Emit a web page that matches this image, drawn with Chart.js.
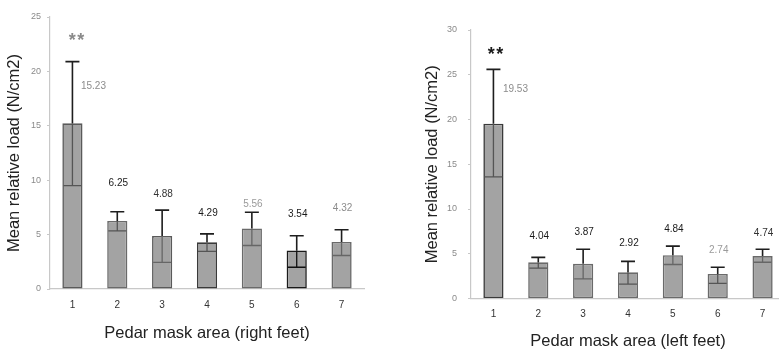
<!DOCTYPE html>
<html><head><meta charset="utf-8">
<script src="https://cdn.jsdelivr.net/npm/chart.js@4"></script>
<style>
html,body{margin:0;padding:0;background:#fff;overflow:hidden;width:779px;height:352px;}
#w1{position:absolute;left:0;top:0;width:385px;height:352px;}
#w2{position:absolute;left:390px;top:0;width:420px;height:352px;}
</style></head><body>
<div id="w1"><canvas id="c1"></canvas></div>
<div id="w2"><canvas id="c2"></canvas></div>
<script>
// ---- data ----
const categories = ['1','2','3','4','5','6','7'];
const yTicksRight = [0,5,10,15,20,25];
const yTicksLeft = [0,5,10,15,20,25,30];

const rightFeetMeans = [15.23, 6.25, 4.88, 4.29, 5.56, 3.54, 4.32];
const rightFeetErrHigh = [20.9, 7.1, 7.25, 5.07, 7.05, 4.9, 5.45];
const rightFeetErrLow = [9.5, 5.35, 2.45, 3.45, 4.0, 2.0, 3.08];
const rightFeetLabelAt = [18.6, 9.7, 8.75, 7.0, 7.8, 6.9, 7.4];
const rightFeetStars = ['**','','','','','',''];
const rightFeetStarAt = 23.2;

const leftFeetMeans = [19.53, 4.04, 3.87, 2.92, 4.84, 2.74, 4.74];
const leftFeetErrHigh = [25.6, 4.6, 5.5, 4.15, 5.85, 3.5, 5.5];
const leftFeetErrLow = [13.6, 3.4, 2.2, 1.6, 3.8, 1.7, 4.05];
const leftFeetLabelAt = [23.4, 7.0, 7.4, 6.2, 7.7, 5.4, 7.3];
const leftFeetStars = ['**','','','','','',''];
const leftFeetStarAt = 27.7;

// ---- styles ----
const FONT = '"Liberation Sans", Arial, sans-serif';

const overlay = {
  id: 'overlay',
  afterDatasetsDraw(chart, args, o) {
    const ctx = chart.ctx, ys = chart.scales.y;
    const meta = chart.getDatasetMeta(0);
    ctx.save();
    o.hi.forEach((hi, i) => {
      const x = meta.data[i].x;
      const yH = ys.getPixelForValue(hi), yL = ys.getPixelForValue(o.lo[i]);
      const yT = meta.data[i].y;
      ctx.lineCap = 'butt';
      ctx.strokeStyle = '#1e1e1e'; ctx.lineWidth = 1.6;
      ctx.beginPath();
      ctx.moveTo(x, yH); ctx.lineTo(x, Math.min(yT, yL));
      ctx.moveTo(x - 7, yH); ctx.lineTo(x + 7, yH);
      ctx.stroke();
      ctx.strokeStyle = o.lowColor[i]; ctx.lineWidth = 1.3;
      ctx.beginPath();
      ctx.moveTo(x, Math.min(yT, yL)); ctx.lineTo(x, yL);
      ctx.moveTo(x - 9, yL); ctx.lineTo(x + 9, yL);
      ctx.stroke();
      ctx.font = '10px ' + FONT;
      ctx.fillStyle = o.labelColor[i];
      ctx.textAlign = 'center'; ctx.textBaseline = 'middle';
      const dx = i === 0 ? o.firstShift : 1;
      ctx.fillText(o.values[i].toFixed(2), x + dx, ys.getPixelForValue(o.labelAt[i]));
      if (o.stars[i]) {
        ctx.font = 'bold 18px ' + FONT;
        ctx.fillStyle = o.starColor;
        ctx.fillText(o.stars[i].split('').join('\u200A'), x + o.starShift, ys.getPixelForValue(o.starAt) + 4);
      }
    });
    ctx.restore();
  }
};

function makeChart(id, cfg) {
  return new Chart(document.getElementById(id), {
    type: 'bar',
    data: {
      labels: categories,
      datasets: [{
        data: cfg.values,
        backgroundColor: '#a3a3a3',
        borderColor: cfg.borderColors,
        borderWidth: 1.6,
        borderSkipped: false,
        barPercentage: 0.9,
        categoryPercentage: 0.5
      }]
    },
    options: {
      responsive: true,
      maintainAspectRatio: false,
      animation: false,
      layout: { padding: { top: cfg.top, right: cfg.right, left: 0, bottom: 0 } },
      plugins: {
        legend: { display: false },
        tooltip: { enabled: false },
        overlay: {
          hi: cfg.hi, lo: cfg.lo, values: cfg.values, labelAt: cfg.labelAt,
          labelColor: cfg.labelColor, lowColor: cfg.lowColor, stars: cfg.stars,
          starAt: cfg.starAt, starColor: cfg.starColor, starShift: cfg.starShift,
          firstShift: cfg.firstShift
        }
      },
      scales: {
        x: {
          offset: true,
          grid: { display: false, drawTicks: false },
          border: { display: true, color: '#c8c8c8', width: 1.2 },
          ticks: { color: '#333', font: { size: 10, family: FONT }, padding: cfg.xTickPad, maxRotation: 0 },
          title: { display: true, text: cfg.xTitle, color: '#222', font: { size: 16.5, family: FONT },
                   padding: { top: 0, bottom: cfg.xTitlePad } },
          afterFit(s) { s.height = cfg.xHeight; }
        },
        y: {
          min: 0, max: cfg.max,
          afterBuildTicks(s) { s.ticks = cfg.ticks.map(v => ({ value: v })); },
          grid: { display: true, drawOnChartArea: false, tickLength: 3, color: '#c8c8c8' },
          border: { display: true, color: '#c8c8c8', width: 1.2 },
          ticks: { color: '#8a8a8a', font: { size: 9, family: FONT }, padding: cfg.yTickPad },
          title: { display: true, text: 'Mean relative load (N/cm2)', color: '#222',
                   font: { size: 16.5, family: FONT }, padding: { top: cfg.yTitlePad, bottom: 0 } },
          afterFit(s) { s.width = cfg.yWidth; }
        }
      }
    },
    plugins: [overlay]
  });
}

makeChart('c1', {
  values: rightFeetMeans, hi: rightFeetErrHigh, lo: rightFeetErrLow, labelAt: rightFeetLabelAt,
  labelColor: ['#8c8c8c', '#1a1a1a', '#333', '#1a1a1a', '#9a9a9a', '#1a1a1a', '#8c8c8c'],
  lowColor: ['#555', '#555', '#666', '#555', '#666', '#111', '#666'],
  borderColors: ['#5a5a5a', '#6a6a6a', '#5a5a5a', '#3a3a3a', '#6a6a6a', '#1a1a1a', '#6a6a6a'],
  stars: rightFeetStars, starAt: rightFeetStarAt, starColor: '#8a8a8a', starShift: 4, firstShift: 21,
  max: 25, ticks: yTicksRight, top: 17, right: 21, yWidth: 50, xHeight: 63,
  xTickPad: 10, xTitlePad: 9, yTickPad: 6, yTitlePad: 5,
  xTitle: 'Pedar mask area (right feet)'
});

makeChart('c2', {
  values: leftFeetMeans, hi: leftFeetErrHigh, lo: leftFeetErrLow, labelAt: leftFeetLabelAt,
  labelColor: ['#8c8c8c', '#1a1a1a', '#1a1a1a', '#1a1a1a', '#1a1a1a', '#9a9a9a', '#333'],
  lowColor: ['#555', '#555', '#666', '#555', '#666', '#555', '#666'],
  borderColors: ['#3a3a3a', '#6a6a6a', '#6a6a6a', '#6a6a6a', '#6a6a6a', '#6a6a6a', '#6a6a6a'],
  stars: leftFeetStars, starAt: leftFeetStarAt, starColor: '#1a1a1a', starShift: 2, firstShift: 22,
  max: 30, ticks: yTicksLeft, top: 30, right: 25, yWidth: 81, xHeight: 53.5,
  xTickPad: 10, xTitlePad: 1, yTickPad: 11, yTitlePad: 33,
  xTitle: 'Pedar mask area (left feet)'
});
</script>
</body></html>
